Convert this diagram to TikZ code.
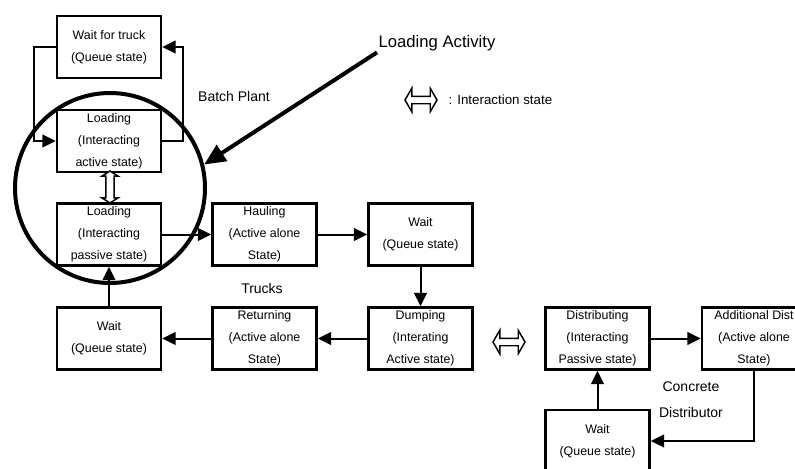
\documentclass[tikz,border=0pt]{standalone}
\usepackage{fontspec}
\setmainfont{Liberation Sans}
\usetikzlibrary{arrows.meta,shapes.arrows}
\tikzset{
  statebox/.style={draw,line width=1.8pt,minimum width=78pt,minimum height=46.5pt,
    inner sep=0pt,align=center,font=\fontsize{9.3}{16.5}\selectfont},
  lbl/.style={font=\fontsize{10.5}{13}\selectfont},
  link/.style={line width=1.5pt,-{Triangle[length=10pt,width=9.5pt]}},
  interact/.style={double arrow,draw,fill=white,line width=1.1pt,inner sep=2.25pt,
    double arrow head extend=6pt,double arrow tip angle=120,minimum height=24pt}
}
\begin{document}
\begin{tikzpicture}[x=0.75pt,y=-0.75pt]
  \useasboundingbox (0,0) rectangle (795,468);
  \draw
    (109,47) node[statebox] (waittruck) {Wait for truck\\(Queue state)}
    (109,141) node[statebox] (loadact) {Loading\\(Interacting\\active state)}
    (109,234.5) node[statebox] (loadpas) {Loading\\(Interacting\\passive state)}
    (109,338.5) node[statebox] (waitl) {Wait\\(Queue state)}
    (264.5,234.5) node[statebox] (haul) {Hauling\\(Active alone\\State)}
    (420.5,234.5) node[statebox] (waitm) {Wait\\(Queue state)}
    (264.5,338.5) node[statebox] (ret) {Returning\\(Active alone\\State)}
    (420.5,338.5) node[statebox] (dump) {Dumping\\(Interating\\Active state)}
    (597.5,338.5) node[statebox] (dist) {Distributing\\(Interacting\\Passive state)}
    (754,338.5) node[statebox] (adddist) {Additional Dist\\(Active alone\\State)}
    (597.5,441) node[statebox] (waitr) {Wait\\(Queue state)};
  \node[lbl] (batch) at (234,96) {Batch Plant};
  \node[lbl] (trucks) at (262,288) {Trucks};
  \node[lbl] (concrete) at (691,387) {Concrete};
  \node[lbl] (distor) at (691,412) {Distributor};
  \node[font=\fontsize{12.5}{15}\selectfont,inner sep=1pt] (actlbl) at (437,43) {Loading Activity};
  \node[interact] (legarrow) at (421,100) {};
  \node[lbl,anchor=west,font=\fontsize{10}{12}\selectfont] (legtext) at (444,100) {: Interaction state};
  \node[interact] (trkconc) at (509,342) {};
  \node[interact,rotate=90,inner sep=2.6pt,double arrow head extend=3pt,double arrow tip angle=115] (plantrk) at (110,187) {};
  \node[circle,draw,line width=3pt,minimum size=142.5pt,inner sep=0pt] (ring) at (110,188) {};
  \draw[line width=3pt,-{Triangle[length=16pt,width=14pt]}] (actlbl.south west) -- (ring.14);
  \begin{scope}[link]
    \draw (waittruck.west) -- ++(-22,0) |- (loadact.west);
    \draw (loadact.east) -- ++(21,0) |- (waittruck.east);
    \draw (loadpas) -- (haul);
    \draw (haul) -- (waitm);
    \draw (waitm) -- (dump);
    \draw (dump) -- (ret);
    \draw (ret) -- (waitl);
    \draw (waitl) -- (loadpas);
    \draw (dist) -- (adddist);
    \draw (waitr) -- (dist);
    \draw (adddist.south) |- (waitr.east);
  \end{scope}
\end{tikzpicture}
\end{document}
